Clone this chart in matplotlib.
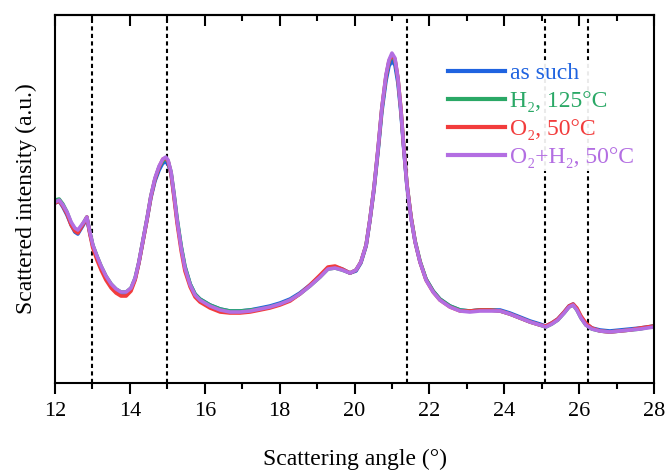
import matplotlib
matplotlib.use("Agg")
import matplotlib.pyplot as plt
from matplotlib.ticker import MultipleLocator

plt.rcParams['font.family'] = ['Liberation Serif', 'DejaVu Serif']

angle = [12.00,12.11,12.21,12.32,12.43,12.53,12.61,12.69,12.77,12.85,
         12.93,13.01,13.12,13.23,13.36,13.50,13.63,13.76,13.90,14.03,
         14.14,14.24,14.35,14.46,14.56,14.67,14.78,14.88,14.96,15.02,
         15.10,15.18,15.26,15.37,15.47,15.61,15.74,15.87,16.14,16.41,
         16.67,16.94,17.21,17.48,17.74,18.01,18.28,18.54,18.81,19.08,
         19.29,19.48,19.67,19.88,20.04,20.17,20.31,20.41,20.52,20.63,
         20.73,20.84,20.92,21.00,21.08,21.16,21.24,21.32,21.40,21.51,
         21.62,21.75,21.91,22.10,22.28,22.55,22.82,23.08,23.35,23.62,
         23.89,24.15,24.42,24.69,24.95,25.11,25.27,25.43,25.60,25.73,
         25.84,25.94,26.05,26.18,26.34,26.56,26.82,27.09,27.36,27.63,
         28.00]

as_such = [180,182,176,168,158,151,149,154,159,165,
           150,137,126,116,106,98,93,90,90,94,
           104,120,142,164,185,202,213,220,221,219,
           209,187,163,136,116,99,89,84,78,74,
           72,72,73,75,77,80,84,90,98,107,
           115,116,114,110,112,120,137,162,193,232,
           271,302,317,322,318,300,270,232,197,165,
           141,121,104,92,84,77,73,72,73,73,
           73,70,66,62,59,57,60,64,71,77,
           79,74,66,59,55,53,52,53,54,55,
           57]

h2_125 = [183,184,179,171,160,154,152,156,161,166,
          151,138,127,117,107,99,94,91,91,95,
          105,121,143,165,187,204,216,222,224,222,
          211,189,165,137,117,99,89,84,78,74,
          72,72,73,74,76,79,83,89,97,106,
          114,115,113,110,113,121,138,163,195,234,
          274,306,321,327,323,304,273,234,199,166,
          142,122,104,92,84,77,73,72,73,73,
          72,69,65,61,58,56,59,63,70,76,
          78,73,65,58,54,52,51,52,53,54,
          57]

o2_50 = [180,182,177,169,158,152,150,155,160,166,
         149,135,123,113,103,95,90,87,87,92,
         103,120,142,164,186,204,216,224,225,222,
         209,185,160,132,112,96,86,81,75,71,
         70,70,71,73,75,78,82,89,98,108,
         116,117,114,110,113,121,138,163,195,235,
         275,307,322,328,324,305,274,234,199,166,
         141,121,103,91,83,76,72,72,73,73,
         72,69,65,61,58,57,60,64,71,77,
         79,75,67,60,55,52,51,52,53,55,
         57]

o2h2_50 = [181,183,178,171,161,155,153,157,161,166,
           151,138,127,117,107,99,94,91,91,95,
           105,121,143,165,187,205,217,224,226,223,
           211,188,163,135,115,98,88,83,77,73,
           71,71,72,74,76,79,83,89,97,106,
           114,115,113,110,113,121,138,163,195,235,
           275,308,323,330,325,305,273,233,198,165,
           141,121,103,91,83,76,72,71,72,72,
           72,69,65,61,58,56,59,63,70,76,
           78,73,65,58,54,52,51,52,53,54,
           56]

series = [as_such, h2_125, o2_50, o2h2_50]
labels = ['as such', 'H₂, 125°C', 'O₂, 50°C', 'O₂+H₂, 50°C']
colors = ['#1f63e0', '#2aa866', '#f23c3c', '#b36ee2']

ref_lines = [13.0, 15.0, 21.4, 25.1, 26.25]

fig = plt.figure(figsize=(6.67, 4.72), dpi=100)
ax = fig.add_axes([0.0825, 0.1886, 0.898, 0.7794])

for xv in ref_lines:
    ax.axvline(xv, color='black', lw=1.5, linestyle=(0, (2, 1.6)), zorder=1)

for y, lab, c in zip(series, labels, colors):
    ax.plot(angle, y, color=c, lw=2.6, label=lab, zorder=2)

ax.set_xlim(12, 28)
ax.set_ylim(0, 368)
ax.set_yticks([])
ax.xaxis.set_major_locator(MultipleLocator(2))
ax.xaxis.set_minor_locator(MultipleLocator(1))
ax.tick_params(axis='x', which='major', direction='out', length=8, width=1.5,
               labelsize=16, pad=6)
ax.tick_params(axis='x', which='minor', direction='out', length=4, width=1.5)

top = ax.secondary_xaxis('top')
top.xaxis.set_major_locator(MultipleLocator(2))
top.xaxis.set_minor_locator(MultipleLocator(1))
top.tick_params(axis='x', which='major', direction='in', length=8, width=1.5,
                labeltop=False)
top.tick_params(axis='x', which='minor', direction='in', length=4, width=1.5)
top.spines['top'].set_linewidth(1.5)

for sp in ax.spines.values():
    sp.set_linewidth(1.5)

ax.set_xlabel('Scattering angle (°)', fontsize=17, labelpad=20)
ax.set_ylabel('Scattered intensity (a.u.)', fontsize=17, labelpad=13)

leg = ax.legend(loc='upper left', bbox_to_anchor=(0.652, 0.878), frameon=True,
                fontsize=17, handlelength=2.4, handletextpad=0.25,
                labelspacing=0.28, borderpad=0.1, borderaxespad=0)
leg.get_frame().set_facecolor('white')
leg.get_frame().set_edgecolor('none')
leg.get_frame().set_alpha(0.92)
leg.set_zorder(5)
for txt, c in zip(leg.get_texts(), colors):
    txt.set_color(c)
for lh in leg.get_lines():
    lh.set_linewidth(3)

fig.savefig('out.png', dpi=100)
